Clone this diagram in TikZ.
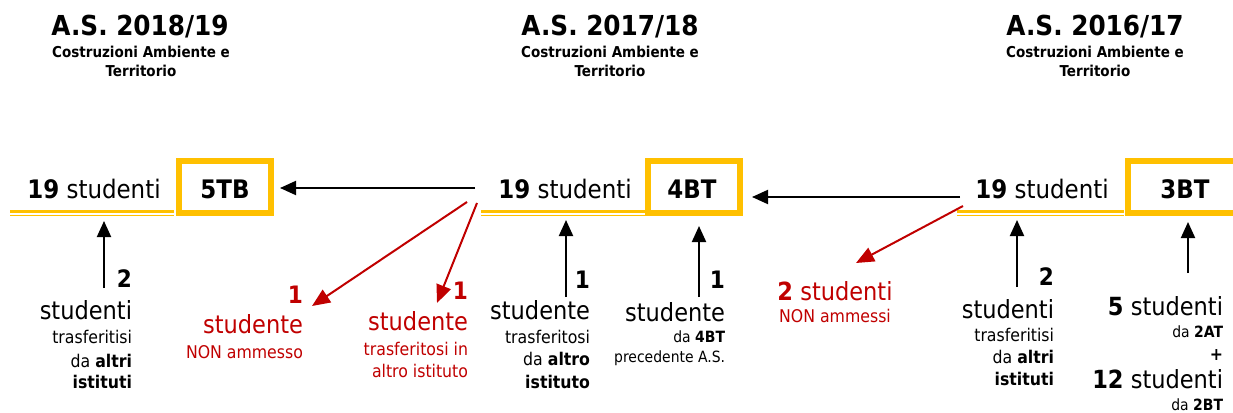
\documentclass[tikz,border=0pt]{standalone}
\usepackage{fontspec}
\setmainfont{DejaVu Sans Condensed}
\usetikzlibrary{arrows.meta}
\definecolor{gold}{HTML}{FFC000}
\definecolor{darkred}{HTML}{C00000}
\tikzset{
  every node/.style={inner sep=0pt, outer sep=0pt},
  title/.style={font=\fontsize{27.5}{30}\selectfont\bfseries, anchor=base},
  subtitle/.style={font=\fontsize{15}{17}\selectfont\bfseries, anchor=base},
  big/.style={font=\fontsize{25}{30}\selectfont, anchor=base east},
  num/.style={font=\fontsize{24}{28}\selectfont\bfseries, anchor=base east},
  small/.style={font=\fontsize{17.5}{20}\selectfont, anchor=base east},
  tiny/.style={font=\fontsize{15.5}{18}\selectfont, anchor=base east},
  rowtext/.style={font=\fontsize{25.5}{30}\selectfont, anchor=base},
  classbox/.style={draw=gold, line width=6pt, minimum width=92pt, minimum height=52pt},
  boxtext/.style={font=\fontsize{25.5}{30}\selectfont\bfseries, anchor=base},
  flow/.style={-{Triangle[length=16pt,width=14pt]}, line width=2pt},
  redflow/.style={-{Triangle[length=18pt,width=15pt]}, line width=2pt, draw=darkred, color=darkred},
  thickline/.style={draw=gold, line width=3.3pt},
  thinline/.style={draw=gold, line width=1.5pt}
}
\begin{document}
\begin{tikzpicture}[x=1pt, y=-1pt]
\useasboundingbox (0,0) rectangle (1233,412);
% titles
\node[title] (t1) at (140,36) {A.S. 2018/19};
\node[subtitle] (s1a) at (141,58) {Costruzioni Ambiente e};
\node[subtitle] (s1b) at (141,76) {Territorio};
\node[title] (t2) at (610,36) {A.S. 2017/18};
\node[subtitle] (s2a) at (610,58) {Costruzioni Ambiente e};
\node[subtitle] (s2b) at (610,76) {Territorio};
\node[title] (t3) at (1095,36) {A.S. 2016/17};
\node[subtitle] (s3a) at (1095,58) {Costruzioni Ambiente e};
\node[subtitle] (s3b) at (1095,76) {Territorio};
% row
\node[rowtext] (r1) at (94,198) {\textbf{19} studenti};
\node[rowtext] (r2) at (565,198) {\textbf{19} studenti};
\node[rowtext] (r3) at (1042,198) {\textbf{19} studenti};
\draw[thickline] (10,211.7) -- (174,211.7);
\draw[thinline] (10,215.7) -- (174,215.7);
\draw[thickline] (481,211.7) -- (645,211.7);
\draw[thinline] (481,215.7) -- (645,215.7);
\draw[thickline] (957,211.7) -- (1124,211.7);
\draw[thinline] (957,215.7) -- (1124,215.7);
\node[classbox] (b1) at (225,187) {};
\node[boxtext] at (225,198) {5TB};
\node[classbox] (b2) at (694,187) {};
\node[boxtext] at (692,198) {4BT};
\draw[draw=gold, line width=6pt] (1240,161) -- (1128,161) -- (1128,213) -- (1240,213);
\coordinate (b3) at (1185,187);
\node[boxtext] at (1185,198) {3BT};
% horizontal arrows
\coordinate (h1s) at (475,188);
\coordinate (h1e) at (280,188);
\draw[flow] (h1s) -- (h1e);
\coordinate (h2s) at (960,197);
\coordinate (h2e) at (752,197);
\draw[flow] (h2s) -- (h2e);
% vertical arrows
\coordinate (v1s) at (104,288); \coordinate (v1e) at (104,221);
\coordinate (v2s) at (566,297); \coordinate (v2e) at (566,220);
\coordinate (v3s) at (699,297); \coordinate (v3e) at (699,226);
\coordinate (v4s) at (1017,287); \coordinate (v4e) at (1017,220);
\coordinate (v5s) at (1188,273); \coordinate (v5e) at (1188,222);
\draw[flow] (v1s) -- (v1e);
\draw[flow] (v2s) -- (v2e);
\draw[flow] (v3s) -- (v3e);
\draw[flow] (v4s) -- (v4e);
\draw[flow] (v5s) -- (v5e);
% red arrows
\coordinate (ra1s) at (467,202); \coordinate (ra1e) at (312,306);
\coordinate (ra2s) at (477,203); \coordinate (ra2e) at (437,303);
\coordinate (ra3s) at (963,206); \coordinate (ra3e) at (856,263);
\draw[redflow] (ra1s) -- (ra1e);
\draw[redflow] (ra2s) -- (ra2e);
\draw[redflow] (ra3s) -- (ra3e);
% group A
\node[num] (a1) at (132,287) {2};
\node[big] (a2) at (132,319) {studenti};
\node[small] (a3) at (132,343) {trasferitisi};
\node[small] (a4) at (132,367) {da \textbf{altri}};
\node[small] (a5) at (132,388) {\textbf{istituti}};
% group B
\begin{scope}[color=darkred]
\node[num] (bb1) at (303,303) {1};
\node[big] (bb2) at (303,333) {studente};
\node[small] (bb3) at (303,358) {NON ammesso};
% group C
\node[num] (c1) at (468,299) {1};
\node[big] (c2) at (468,330) {studente};
\node[small] (c3) at (468,355) {trasferitosi in};
\node[small] (c4) at (468,377) {altro istituto};
% group F
\node[big, anchor=base] (f1) at (835,300) {\textbf{2} studenti};
\node[small, anchor=base] (f2) at (835,322) {NON ammessi};
\end{scope}
% group D
\node[num] (d1) at (590,288) {1};
\node[big] (d2) at (590,319) {studente};
\node[small] (d3) at (590,343) {trasferitosi};
\node[small] (d4) at (590,365) {da \textbf{altro}};
\node[small] (d5) at (590,388) {\textbf{istituto}};
% group E
\node[num] (e1) at (725,288) {1};
\node[big] (e2) at (725,321) {studente};
\node[tiny] (e3) at (725,342) {da \textbf{4BT}};
\node[tiny] (e4) at (725,362) {precedente A.S.};
% group G
\node[num] (g1) at (1054,285) {2};
\node[big] (g2) at (1054,318) {studenti};
\node[small] (g3) at (1054,341) {trasferitisi};
\node[small] (g4) at (1054,363) {da \textbf{altri}};
\node[small] (g5) at (1054,385) {\textbf{istituti}};
% group H
\node[big] (hh1) at (1223,315) {\textbf{5} studenti};
\node[tiny] (hh2) at (1223,337) {da \textbf{2AT}};
\node[small] (hh3) at (1223,360) {\textbf{+}};
\node[big] (hh4) at (1223,388) {\textbf{12} studenti};
\node[tiny] (hh5) at (1223,410) {da \textbf{2BT}};
\end{tikzpicture}
\end{document}
